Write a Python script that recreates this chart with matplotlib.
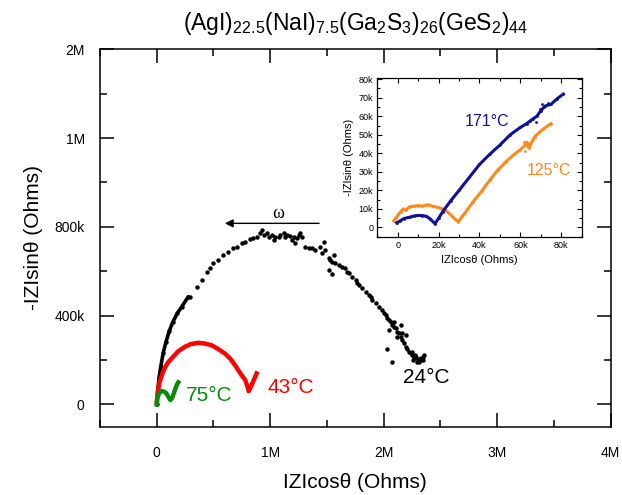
import matplotlib
matplotlib.use("Agg")
import matplotlib.pyplot as plt
from matplotlib.ticker import FixedLocator, MultipleLocator, FuncFormatter

plt.rcParams['font.family'] = ['Liberation Sans', 'DejaVu Sans']
plt.rcParams['mathtext.fontset'] = 'custom'
plt.rcParams['mathtext.rm'] = 'Liberation Sans'
plt.rcParams['mathtext.it'] = 'Liberation Sans'
plt.rcParams['mathtext.default'] = 'rm'

# ---- main Nyquist plot data (Ohms / 1e6) ----
t24_x = [0.0, 0.008, 0.02, 0.035, 0.056, 0.08, 0.11, 0.14, 0.18, 0.22, 0.277,
         0.292, 0.351, 0.395, 0.439, 0.469, 0.498, 0.542, 0.587, 0.631, 0.675,
         0.705, 0.749, 0.778, 0.823, 0.852, 0.882, 0.911, 0.926, 0.941, 0.970,
         0.985, 1.014, 1.029, 1.044, 1.073, 1.088, 1.118, 1.132, 1.147, 1.177,
         1.191, 1.206, 1.221, 1.236, 1.250, 1.265, 1.280, 1.309, 1.339, 1.368,
         1.398, 1.442, 1.457, 1.486, 1.516, 1.531, 1.545, 1.560, 1.575, 1.604,
         1.634, 1.663, 1.678, 1.693, 1.722, 1.752, 1.767, 1.781, 1.811, 1.840,
         1.870, 1.885, 1.899, 1.929, 1.958, 1.988, 2.003, 2.017, 2.032, 2.047,
         2.062, 2.076, 2.091, 2.106, 2.121, 2.135, 2.150, 2.165, 2.180, 2.194,
         2.209, 2.224, 2.239, 2.253, 2.283, 2.298, 2.312, 2.327, 2.342, 2.357]
t24_y = [0.0, 0.06, 0.12, 0.17, 0.23, 0.28, 0.33, 0.37, 0.41, 0.44, 0.485,
         0.485, 0.53, 0.561, 0.598, 0.613, 0.636, 0.651, 0.673, 0.688, 0.703,
         0.711, 0.729, 0.733, 0.744, 0.748, 0.756, 0.771, 0.786, 0.763, 0.771,
         0.756, 0.763, 0.741, 0.756, 0.756, 0.763, 0.771, 0.756, 0.763, 0.759,
         0.741, 0.756, 0.726, 0.748, 0.763, 0.771, 0.756, 0.711, 0.703, 0.703,
         0.696, 0.711, 0.681, 0.696, 0.658, 0.651, 0.643, 0.673, 0.636, 0.628,
         0.621, 0.613, 0.598, 0.591, 0.576, 0.561, 0.546, 0.538, 0.523, 0.508,
         0.493, 0.485, 0.470, 0.455, 0.440, 0.425, 0.410, 0.403, 0.388, 0.380,
         0.373, 0.358, 0.350, 0.343, 0.328, 0.320, 0.305, 0.290, 0.275, 0.260,
         0.252, 0.237, 0.230, 0.222, 0.215, 0.200, 0.207, 0.200, 0.215, 0.222]
t24_dense = 11  # leading high-frequency points merge into a solid trace
t24_scatter_x = [1.472, 1.516, 1.545, 2.032, 2.076, 2.150, 2.165, 2.194, 2.091,
                 2.121, 2.047, 2.26, 2.29, 2.31, 2.33, 2.35, 2.28, 2.25, 2.27]
t24_scatter_y = [0.733, 0.606, 0.590, 0.252, 0.192, 0.358, 0.320, 0.313, 0.373,
                 0.305, 0.335, 0.200, 0.190, 0.190, 0.210, 0.200, 0.225, 0.235, 0.210]

t43_x = [0.0, 0.01, 0.025, 0.04, 0.07, 0.10, 0.13, 0.19, 0.248, 0.30, 0.366,
         0.42, 0.483, 0.54, 0.60, 0.65, 0.69, 0.73, 0.78, 0.80, 0.81, 0.83,
         0.855, 0.88]
t43_y = [0.01, 0.06, 0.10, 0.125, 0.165, 0.19, 0.207, 0.24, 0.26, 0.272, 0.278,
         0.275, 0.267, 0.25, 0.23, 0.205, 0.177, 0.145, 0.11, 0.08, 0.06, 0.08,
         0.11, 0.14]

t75_x = [0.0, 0.005, 0.02, 0.041, 0.065, 0.085, 0.105, 0.12, 0.135, 0.15,
         0.165, 0.18, 0.19]
t75_y = [0.0, 0.03, 0.05, 0.061, 0.058, 0.05, 0.032, 0.02, 0.028, 0.05,
         0.072, 0.092, 0.10]

main_xticks = [0, 1, 2, 3, 4]
main_xlabels = ['0', '1M', '2M', '3M', '4M']
main_yticks = [0, 0.4, 0.8, 1.2, 1.6]
main_ylabels = ['0', '400k', '800k', '1M', '2M']

# ---- inset data (Ohms / 1e3) ----
t171_x = [-0.5, 1, 3, 6, 8, 10, 12, 14, 16, 18.2, 20, 22, 26, 30, 35, 40, 45,
          50, 55, 60, 63, 66, 68, 70, 72, 75, 78, 81]
t171_y = [2.5, 3.5, 4.8, 5.6, 6.2, 6.5, 6.4, 6.0, 4.5, 2.0, 5, 8.5, 14.5, 20,
          27, 34, 39.5, 44.5, 50, 54, 56, 58.5, 60, 63, 65.5, 66.5, 69.5, 72]
t171_scatter_x = [69.4, 70.5, 71.5, 73.3, 67.8, 64.5]
t171_scatter_y = [64.0, 66.5, 65.0, 67.0, 57.0, 57.5]

t125_x = [-2, -1, 0.3, 1.5, 2.7, 4, 6, 8, 10, 12, 14.9, 17, 20.6, 23, 25.5, 28,
          29.6, 33, 37, 41, 45, 49, 53, 57, 60, 62, 63, 64, 67, 71, 75]
t125_y = [3.6, 5, 7, 8.5, 10, 9.5, 11.2, 11.5, 11.8, 11.5, 12.3, 11.5, 10.5,
          9.5, 7.3, 4.5, 3.1, 8, 14, 19.5, 25.5, 31, 35.5, 39.5, 42, 44, 46, 43,
          49, 53, 56]
t125_scatter_x = [62.5, 63.5, 64.5, 61.8, 65.5]
t125_scatter_y = [41.5, 45.0, 44.0, 46.0, 46.5]

C_BLUE = '#10109a'
C_ORANGE = '#ff8a1e'
C_GREEN = '#0a8a0a'

fig = plt.figure(figsize=(6.22, 4.95), dpi=100)
ax = fig.add_axes([0.1608, 0.138, 0.821, 0.7624])

# 24 °C: solid at high frequency, dotted toward low frequency
ax.plot(t24_x[:t24_dense], t24_y[:t24_dense], '-', color='black', lw=2.6,
        solid_capstyle='round', zorder=3)
ax.plot(t24_x, t24_y, 'o', color='black', ms=3.2, mew=0, zorder=3)
ax.plot(t24_scatter_x, t24_scatter_y, 'o', color='black', ms=3.2, mew=0, zorder=3)
ax.plot(t43_x, t43_y, '-', color='red', lw=3.2, solid_joinstyle='round', zorder=4)
ax.plot(t75_x, t75_y, '-', color=C_GREEN, lw=3.2, solid_joinstyle='round', zorder=5)

ax.set_xlim(-0.5, 4)
ax.set_ylim(-0.1, 1.6)
ax.xaxis.set_major_locator(FixedLocator(main_xticks))
ax.set_xticklabels(main_xlabels)
ax.xaxis.set_minor_locator(MultipleLocator(0.5))
ax.yaxis.set_major_locator(FixedLocator(main_yticks))
ax.set_yticklabels(main_ylabels)
ax.yaxis.set_minor_locator(MultipleLocator(0.2))
ax.tick_params(which='both', direction='in', top=True, right=True, width=1.1,
               labelsize=10)
ax.tick_params(which='major', length=10)
ax.tick_params(which='minor', length=5)
ax.tick_params(axis='x', which='major', pad=14)
ax.tick_params(axis='y', which='major', pad=11)
for s in ax.spines.values():
    s.set_linewidth(1.1)

ax.set_xlabel('IZIcos\u03b8 (Ohms)', fontsize=15, labelpad=9)
ax.set_ylabel('-IZIsin\u03b8 (Ohms)', fontsize=15, labelpad=8)
ax.set_title(r'(AgI)$_{22.5}$(NaI)$_{7.5}$(Ga$_2$S$_3$)$_{26}$(GeS$_2$)$_{44}$',
             fontsize=16.5, pad=14)

ax.text(2.17, 0.12, '24\u00b0C', fontsize=15, color='black', ha='left', va='center')
ax.text(0.98, 0.075, '43\u00b0C', fontsize=15, color='red', ha='left', va='center')
ax.text(0.26, 0.04, '75\u00b0C', fontsize=15, color=C_GREEN, ha='left', va='center')

# frequency direction
ax.annotate('', xy=(0.60, 0.816), xytext=(1.43, 0.816),
            arrowprops=dict(arrowstyle='-|>', color='black', lw=1.0,
                            mutation_scale=12, shrinkA=0, shrinkB=0))
ax.text(1.07, 0.86, '\u03c9', fontsize=13, family=['Liberation Serif'],
        ha='center', va='center')

# ---- inset ----
ins = fig.add_axes([0.6066, 0.5218, 0.3286, 0.32])
ins.plot(t125_x, t125_y, '-', color=C_ORANGE, lw=2.2, zorder=3)
ins.plot(t125_x, t125_y, 'o', color=C_ORANGE, ms=2.0, mew=0, zorder=3)
ins.plot(t125_scatter_x, t125_scatter_y, 'o', color=C_ORANGE, ms=2.0, mew=0, zorder=3)
ins.plot(t171_x, t171_y, '-', color=C_BLUE, lw=2.2, zorder=4)
ins.plot(t171_x, t171_y, 'o', color=C_BLUE, ms=2.0, mew=0, zorder=4)
ins.plot(t171_scatter_x, t171_scatter_y, 'o', color=C_BLUE, ms=2.0, mew=0, zorder=4)

ins.set_xlim(-10, 90)
ins.set_ylim(-5, 80.5)
ins.xaxis.set_major_locator(MultipleLocator(20))
ins.xaxis.set_minor_locator(MultipleLocator(10))
ins.yaxis.set_major_locator(MultipleLocator(10))
ins.yaxis.set_minor_locator(MultipleLocator(5))
kfmt = FuncFormatter(lambda v, p: '0' if abs(v) < 1e-9 else '%dk' % round(v))
ins.xaxis.set_major_formatter(kfmt)
ins.yaxis.set_major_formatter(kfmt)
ins.tick_params(which='both', direction='in', top=True, right=True, width=0.8,
                labelsize=6.5, pad=3)
ins.tick_params(which='major', length=3.5)
ins.tick_params(which='minor', length=2.5)
for s in ins.spines.values():
    s.set_linewidth(0.9)
ins.set_xlabel('IZIcos\u03b8 (Ohms)', fontsize=8, labelpad=4)
ins.set_ylabel('-IZIsin\u03b8 (Ohms)', fontsize=8, labelpad=3)
ins.text(33, 57, '171\u00b0C', fontsize=11.5, color=C_BLUE, ha='left', va='center')
ins.text(63, 30.5, '125\u00b0C', fontsize=11.5, color=C_ORANGE, ha='left', va='center')

fig.savefig('out.png', dpi=100)
